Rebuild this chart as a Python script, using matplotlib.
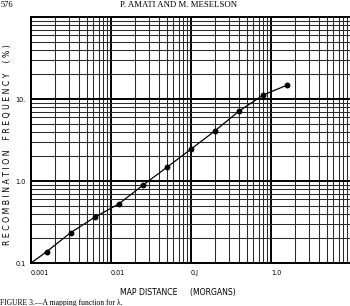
import matplotlib
matplotlib.use("Agg")
import matplotlib.pyplot as plt
from matplotlib.ticker import FixedLocator, LogLocator, NullFormatter

# Data (map distance in Morgans, recombination frequency in %)
map_distance = [0.0015625, 0.003125, 0.00625, 0.0125, 0.025, 0.05, 0.1, 0.2, 0.4, 0.8, 1.6]
recomb_freq = [0.137, 0.234, 0.361, 0.525, 0.887, 1.47, 2.45, 4.1, 7.14, 11.2, 14.8]
curve_start_x = [0.001]
curve_start_y = [0.1]

x_ticks = [0.001, 0.01, 0.1, 1.0]
x_tick_labels = ["0.001", "0.01", "0.J", "1.0"]
y_ticks = [0.1, 1.0, 10.0]
y_tick_labels = ["0.1", "1.0", "10."]

W, H = 350, 306
fig = plt.figure(figsize=(W / 100, H / 100), dpi=100)
ax = fig.add_axes([31 / W, 43 / H, 320 / W, 246 / H])
ax.set_xscale("log")
ax.set_yscale("log")
ax.set_xlim(0.001, 10)
ax.set_ylim(0.1, 100)

# graph-paper grid
ax.xaxis.set_minor_locator(LogLocator(base=10, subs=range(2, 10)))
ax.yaxis.set_minor_locator(LogLocator(base=10, subs=range(2, 10)))
ax.xaxis.set_minor_formatter(NullFormatter())
ax.yaxis.set_minor_formatter(NullFormatter())
ax.grid(which="minor", color="#2a2a2a", lw=0.75)
ax.grid(which="major", color="#000000", lw=1.4)
ax.set_axisbelow(True)

ax.xaxis.set_major_locator(FixedLocator(x_ticks))
ax.yaxis.set_major_locator(FixedLocator(y_ticks))
ax.set_xticklabels(x_tick_labels, fontsize=4.7, family="DejaVu Sans")
ax.set_yticklabels(y_tick_labels, fontsize=4.7, family="DejaVu Sans")
ax.tick_params(axis="x", which="both", length=0, pad=5)
ax.tick_params(axis="y", which="both", length=0, pad=4)
for lab in ax.get_xticklabels():
    lab.set_horizontalalignment("left")

for s in ax.spines.values():
    s.set_color("black")
    s.set_linewidth(1.4)
ax.spines["right"].set_visible(False)

line_x = curve_start_x + map_distance
line_y = curve_start_y + recomb_freq
ax.plot(line_x, line_y, color="black", lw=0.9, clip_on=False, zorder=3)
ax.plot(map_distance, recomb_freq, "o", color="black", ms=3.2, zorder=4, clip_on=False)

def fx(px):
    return px / W

def fy(py):
    return 1 - py / H

fig.text(fx(178), fy(292), "MAP DISTANCE     (MORGANS)", fontsize=5.6,
         family="DejaVu Sans", ha="center", va="center")
fig.text(fx(8), fy(145), "R E C O M B I N A T I O N    F R E Q U E N C Y    ( % )",
         fontsize=5.6, family="DejaVu Sans", rotation=90, ha="center", va="center")
fig.text(fx(179), fy(5), "P. AMATI AND M. MESELSON", fontsize=6.3,
         family="Liberation Serif", ha="center", va="center")
fig.text(fx(0.5), fy(5), "576", fontsize=6, family="Liberation Serif",
         ha="left", va="center")
fig.text(fx(0), fy(299), "FIGURE 3.\u2014A mapping function for \u03bb.", fontsize=5.5,
         family="Liberation Serif", ha="left", va="top")

fig.savefig("out.png", dpi=100)
